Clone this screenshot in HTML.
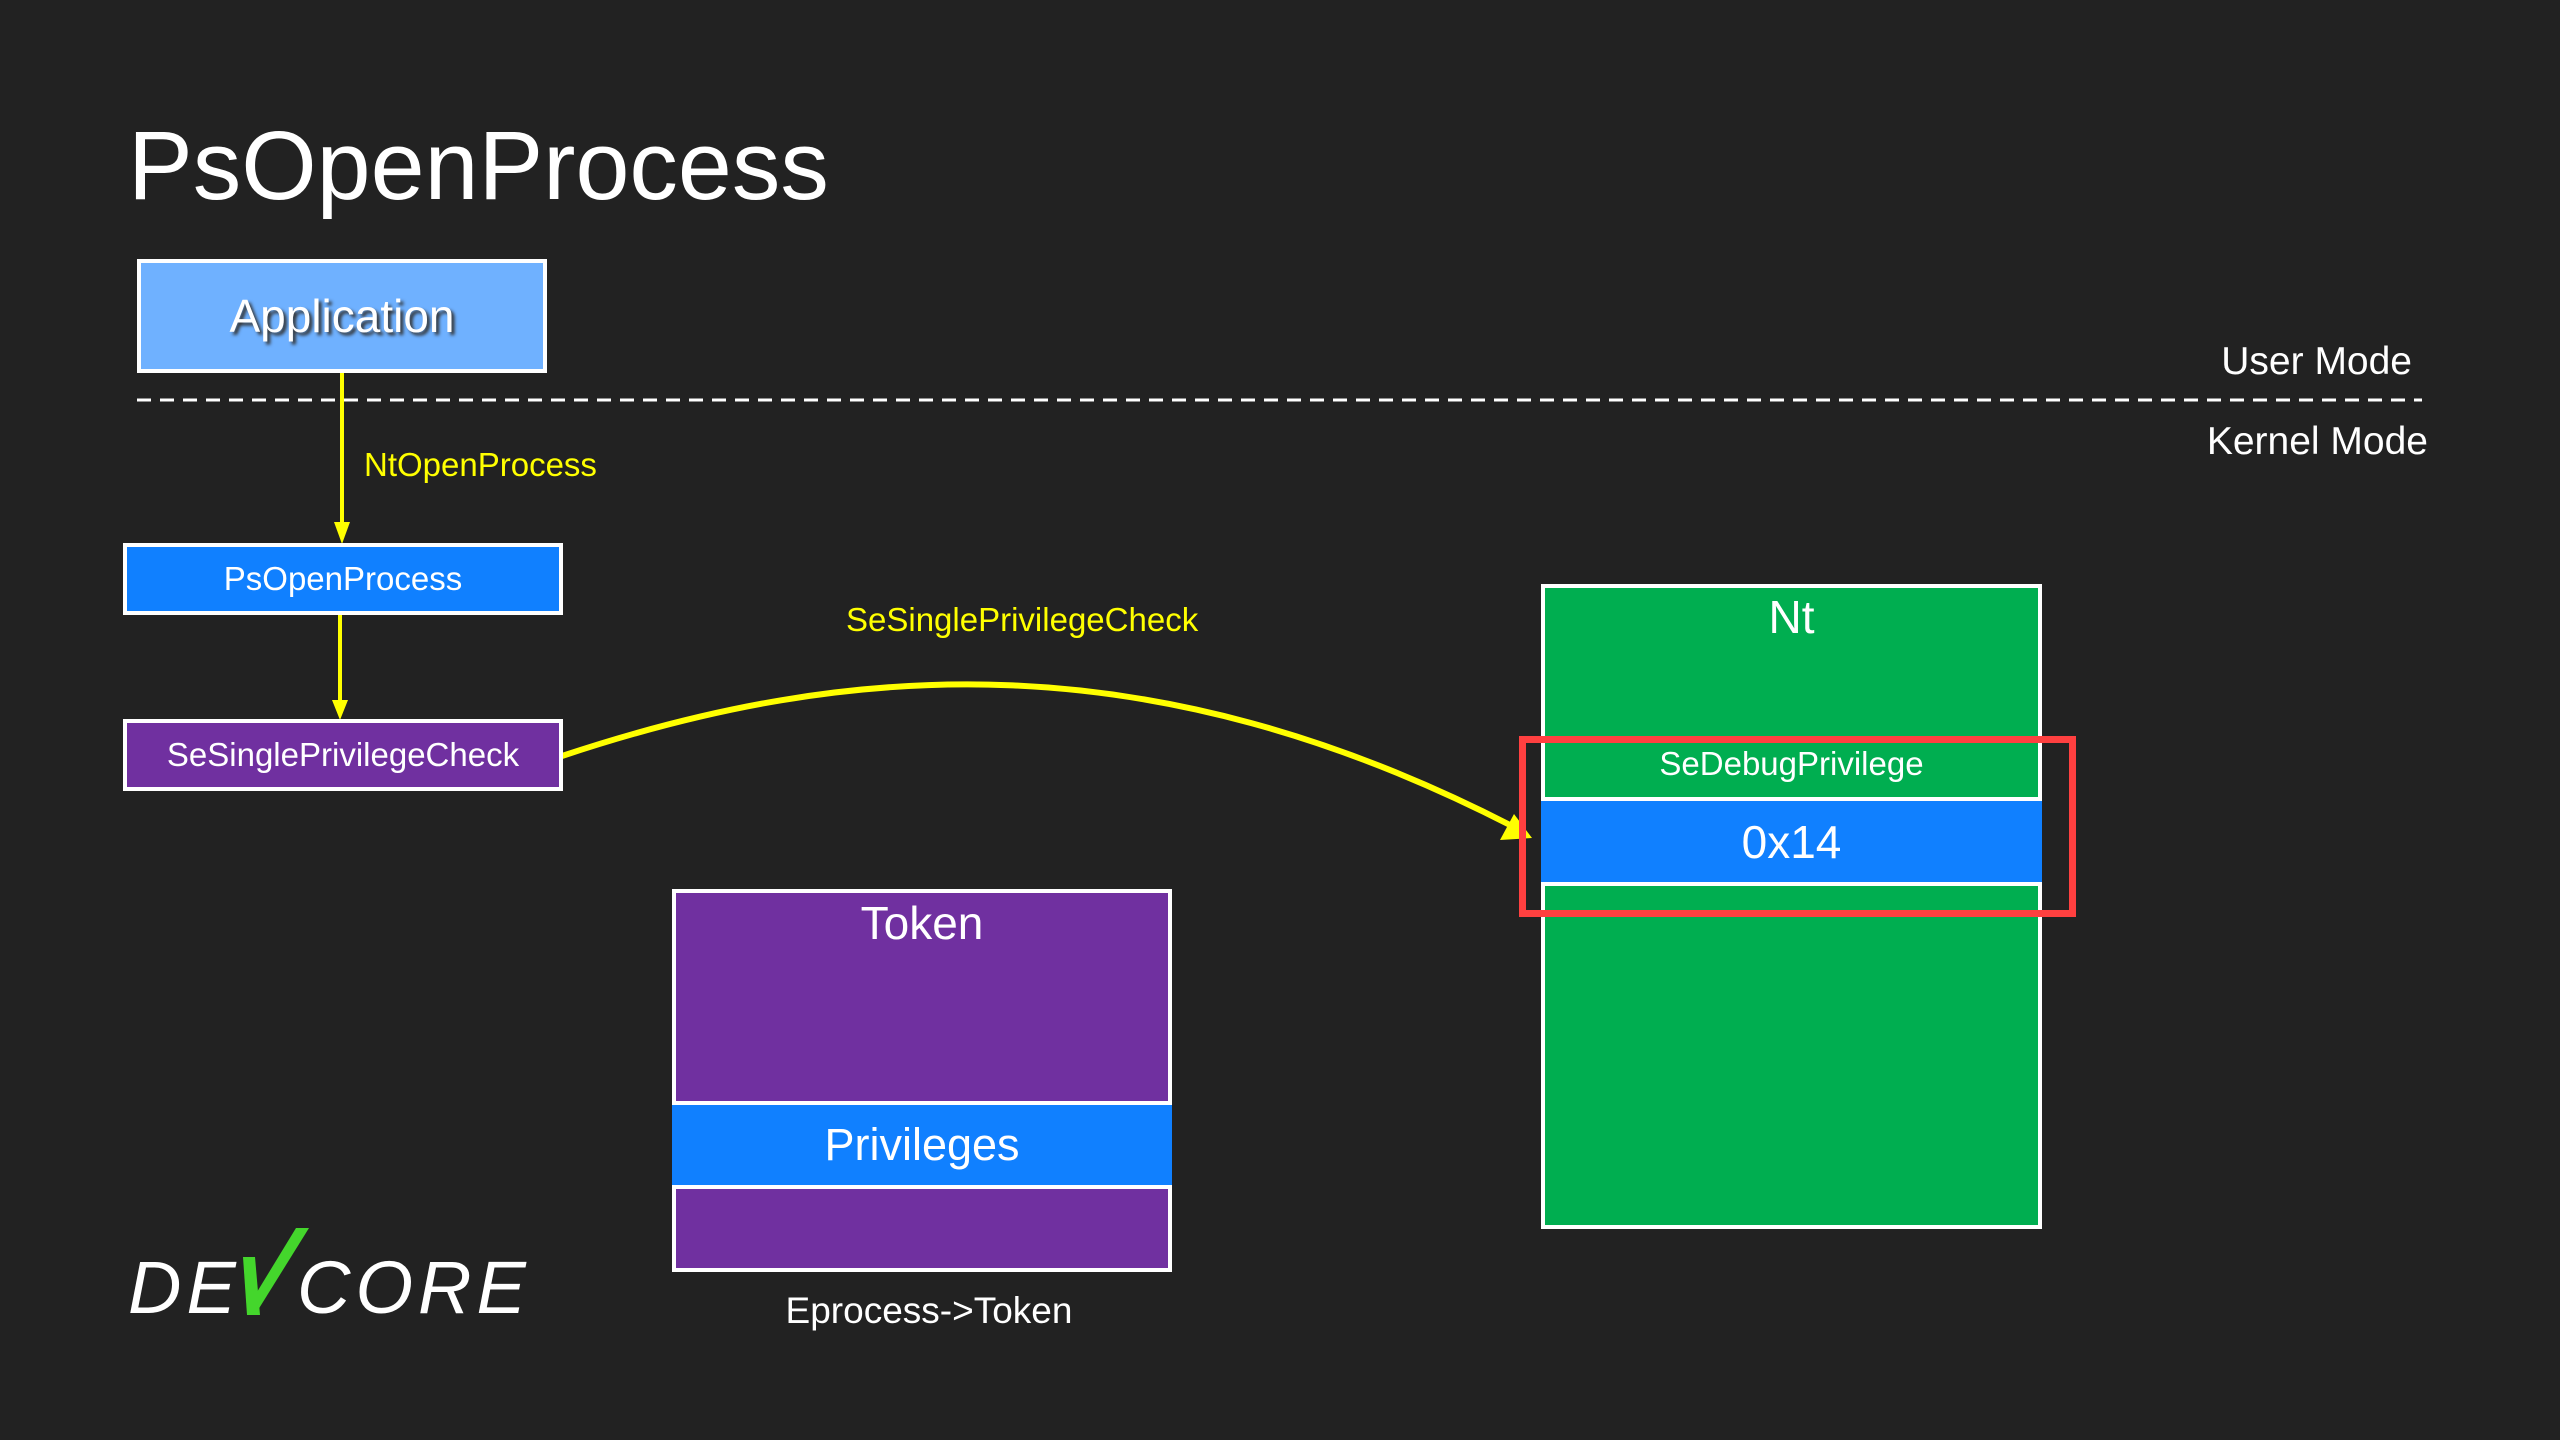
<!DOCTYPE html>
<html><head><meta charset="utf-8"><style>
html,body{margin:0;padding:0;background:#222222;}
body{width:2560px;height:1440px;position:relative;overflow:hidden;font-family:"Liberation Sans",sans-serif;color:#fff;}
.a{position:absolute;box-sizing:border-box;}
.c{display:flex;align-items:center;justify-content:center;}
</style></head><body>
<div class="a" style="left:128px;top:106px;font-size:97px;line-height:120px;">PsOpenProcess</div>

<div class="a c" style="left:137px;top:259px;width:410px;height:114px;background:#6fb1ff;border:4px solid #fff;font-size:46px;text-shadow:3px 3px 3px #333;">Application</div>

<svg class="a" style="left:0;top:0" width="2560" height="1440">
<line x1="137" y1="400" x2="2422" y2="400" stroke="#fff" stroke-width="3" stroke-dasharray="14,9"/>
<line x1="342" y1="373" x2="342" y2="525" stroke="#ffff00" stroke-width="4"/>
<polygon points="334,522 350,522 342,544" fill="#ffff00"/>
<line x1="340" y1="614" x2="340" y2="702" stroke="#ffff00" stroke-width="4"/>
<polygon points="332,700 348,700 340,720" fill="#ffff00"/>
<path d="M562 756 C 850 660, 1150 640, 1512 826" fill="none" stroke="#ffff00" stroke-width="6"/>
<polygon points="1532,838 1500,840 1514,814" fill="#ffff00"/>
<polygon points="243,1257 255,1257 260,1315 247,1315" fill="#44d62c"/>
<polygon points="296,1228 309,1228 258,1310 257,1292" fill="#44d62c"/>
</svg>

<div class="a" style="left:2100px;top:340px;width:312px;text-align:right;font-size:39px;">User Mode</div>
<div class="a" style="left:2100px;top:420px;width:328px;text-align:right;font-size:39px;">Kernel Mode</div>
<div class="a" style="left:364px;top:446px;font-size:33px;color:#ffff00;">NtOpenProcess</div>
<div class="a" style="left:846px;top:601px;font-size:33px;color:#ffff00;">SeSinglePrivilegeCheck</div>

<div class="a c" style="left:123px;top:543px;width:440px;height:72px;background:#1080ff;border:4px solid #fff;font-size:33px;">PsOpenProcess</div>
<div class="a c" style="left:123px;top:719px;width:440px;height:72px;background:#7030a0;border:4px solid #fff;font-size:33px;">SeSinglePrivilegeCheck</div>

<div class="a" style="left:672px;top:889px;width:500px;height:383px;background:#7030a0;border:4px solid #fff;"></div>
<div class="a" style="left:672px;top:896px;width:500px;text-align:center;font-size:46px;">Token</div>
<div class="a c" style="left:672px;top:1101px;width:500px;height:88px;background:#1080ff;border-top:4px solid #fff;border-bottom:4px solid #fff;font-size:45px;">Privileges</div>
<div class="a" style="left:672px;top:1290px;width:514px;text-align:center;font-size:37px;">Eprocess-&gt;Token</div>

<div class="a" style="left:1541px;top:584px;width:501px;height:645px;background:#00ae50;border:4px solid #fff;"></div>
<div class="a" style="left:1541px;top:590px;width:501px;text-align:center;font-size:46px;">Nt</div>
<div class="a" style="left:1541px;top:745px;width:501px;text-align:center;font-size:33px;">SeDebugPrivilege</div>
<div class="a c" style="left:1541px;top:797px;width:501px;height:89px;background:#1080ff;border-top:4px solid #fff;border-bottom:4px solid #fff;font-size:46px;">0x14</div>
<div class="a" style="left:1519px;top:736px;width:557px;height:181px;border:7px solid #ff4040;"></div>

<div class="a" style="left:128px;top:1238px;font-size:74px;font-style:italic;letter-spacing:5px;line-height:100px;">DE</div>
<div class="a" style="left:297px;top:1238px;font-size:74px;font-style:italic;letter-spacing:5px;line-height:100px;">CORE</div>
</body></html>
